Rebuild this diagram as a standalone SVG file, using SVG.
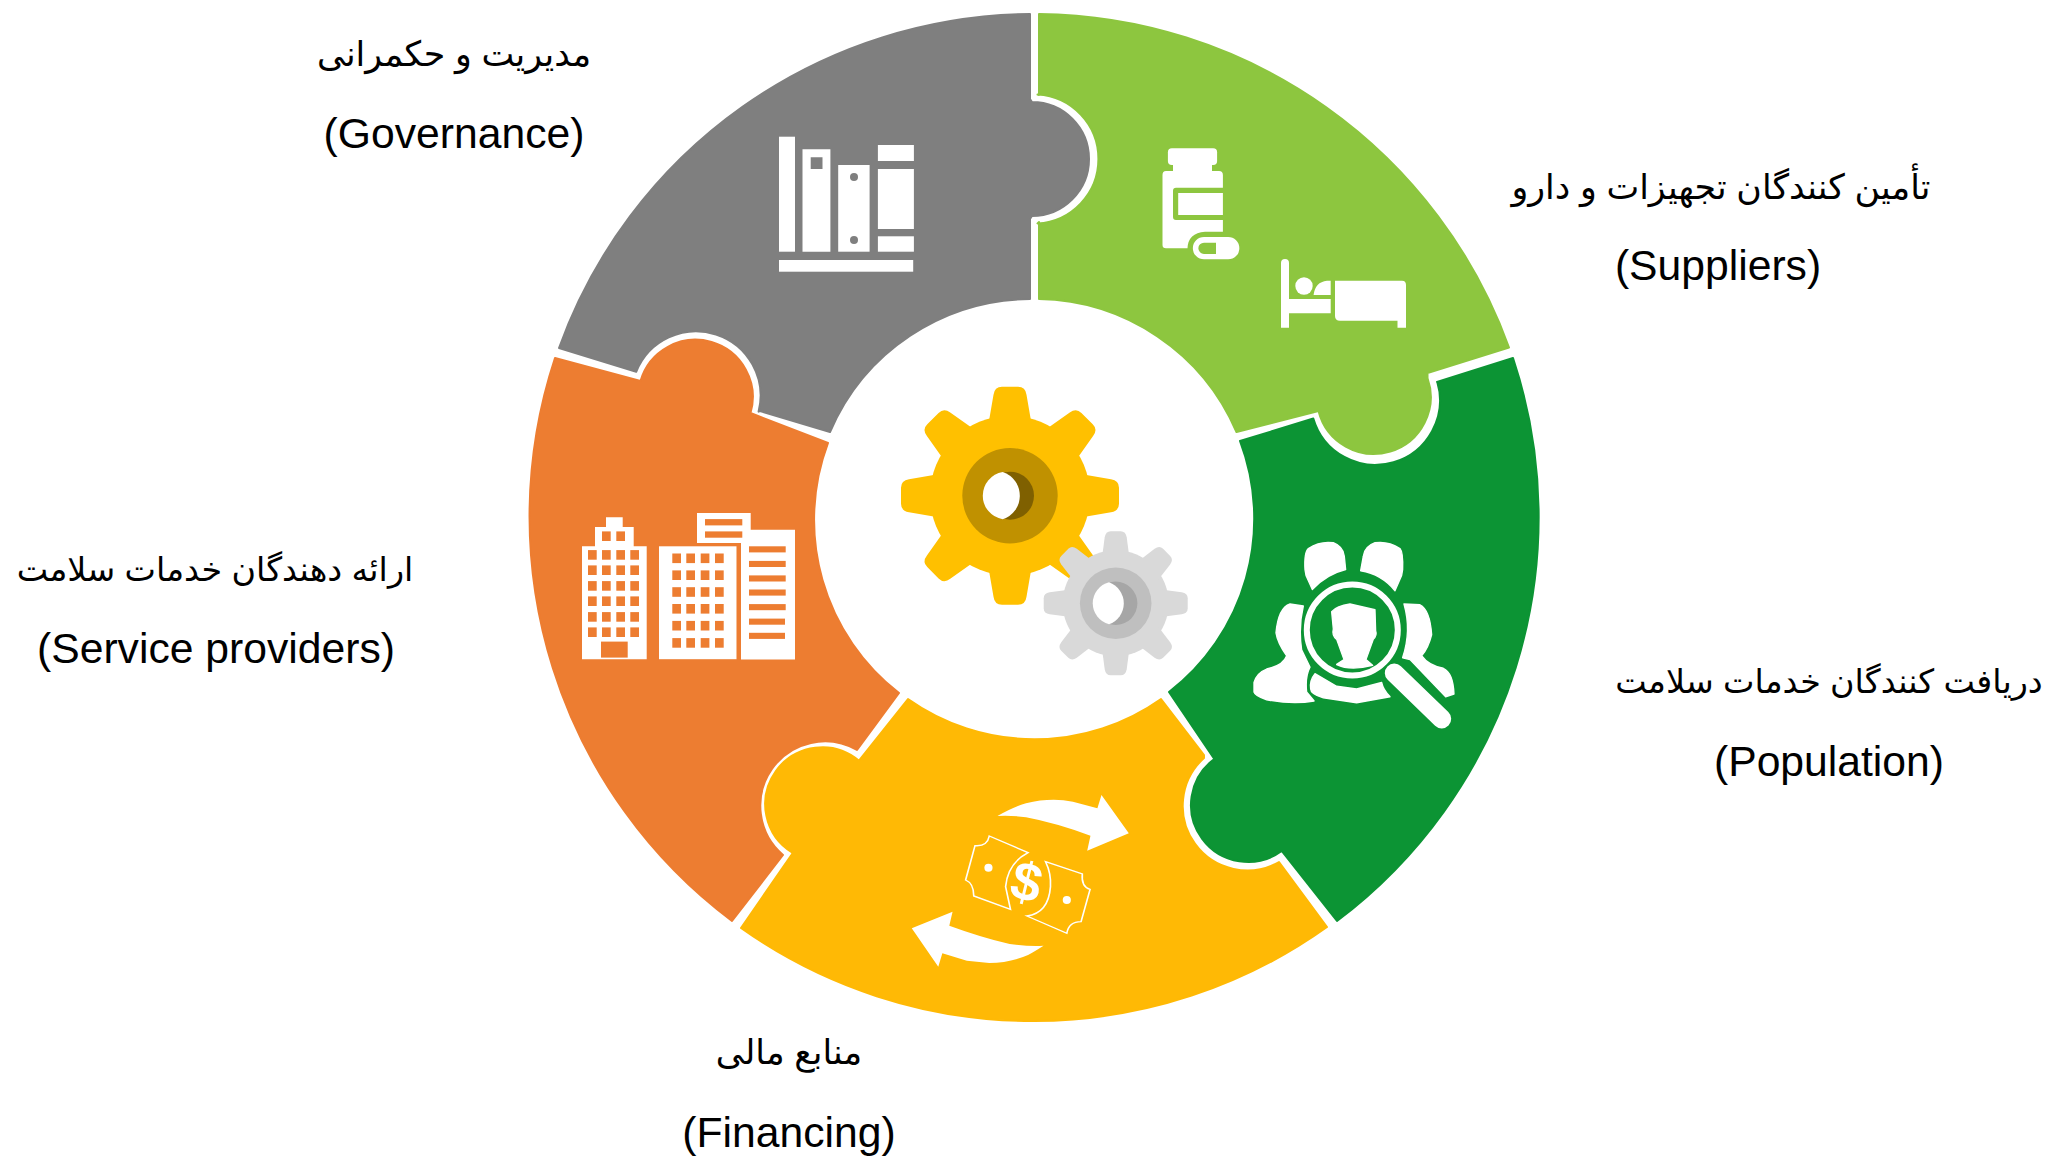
<svg xmlns="http://www.w3.org/2000/svg" width="2046" height="1157" viewBox="0 0 2046 1157">
<style>
text{font-family:"Liberation Sans","DejaVu Sans",sans-serif;font-size:42.67px;fill:#000;text-anchor:middle}
.fa{direction:rtl;font-size:34.8px}
.fb{direction:rtl;font-size:33.4px}
.p{stroke-width:2;stroke-linejoin:round}
.w{fill:#fff}
</style>
<defs>
<path id="tooth" d="M-21.5-72L-16.5-101Q-15.5-109-8-109L8-109Q15.5-109 16.5-101L21.5-72Z"/>
<path id="toothS" d="M-13.5-47L-11-66Q-10-72-5-72L5-72Q10-72 11-66L13.5-47Z"/>
<g id="big"><circle r="80"/><use href="#tooth"/><use href="#tooth" transform="rotate(45)"/><use href="#tooth" transform="rotate(90)"/><use href="#tooth" transform="rotate(135)"/><use href="#tooth" transform="rotate(180)"/><use href="#tooth" transform="rotate(225)"/><use href="#tooth" transform="rotate(270)"/><use href="#tooth" transform="rotate(315)"/></g>
<g id="small"><circle r="53"/><use href="#toothS"/><use href="#toothS" transform="rotate(45)"/><use href="#toothS" transform="rotate(90)"/><use href="#toothS" transform="rotate(135)"/><use href="#toothS" transform="rotate(180)"/><use href="#toothS" transform="rotate(225)"/><use href="#toothS" transform="rotate(270)"/><use href="#toothS" transform="rotate(315)"/></g>
</defs>
<rect width="2046" height="1157" fill="#fff"/>

<g id="governance">
<path class="p" fill="#7F7F7F" stroke="#7F7F7F" d="M1030,14L1030,99L1032,102A57,57 0 1 1 1032,216L1030,219L1030,299A219,219 0 0 0 830,432L760,411L758.6,411.6A64.5,64.5 0 0 0 636.2,371.8L559,348A505.5,505.5 0 0 1 1030,14Z"/>
<g class="w">
<rect x="779" y="136.7" width="16" height="115"/>
<path d="M802.5,149.3H830.4V251.7H802.5ZM810.7,157.3V169H822.5V157.3Z" fill-rule="evenodd"/>
<rect x="838.2" y="165" width="31.4" height="86.7"/>
<rect x="877.9" y="145" width="36" height="16"/>
<rect x="877.9" y="169" width="36" height="60"/>
<rect x="877.9" y="236.3" width="36" height="15.4"/>
<rect x="779" y="260" width="134.2" height="11.7"/>
</g>
<circle cx="854" cy="177" r="4" fill="#7F7F7F"/><circle cx="854" cy="240" r="4" fill="#7F7F7F"/>
</g>

<g id="suppliers">
<path class="p" fill="#8DC63F" stroke="#8DC63F" d="M1039,14A505.5,505.5 0 0 1 1509,347.5L1427.5,373L1427.5,378A57,57 0 1 1 1318.5,411L1236.5,432A219,219 0 0 0 1039,299L1039,222L1037.5,223.4A64.5,64.5 0 0 0 1037.5,94.6L1039,95Z"/>
<g class="w">
<rect x="1167.9" y="148.3" width="49.2" height="16.7" rx="4"/>
<rect x="1173" y="162" width="39" height="11"/>
<path d="M1166,171H1219Q1222.9,171 1222.9,175V187.7H1176Q1173,187.7 1173,190.7V217Q1173,220 1176,220H1222.9V231.7H1205Q1188,233 1187.5,248.3H1166Q1162.5,248.3 1162.5,245V175Q1162.5,171 1166,171Z"/>
<rect x="1178.2" y="193" width="44.7" height="22"/>
<path d="M1204,237H1228.2A11.15,11.15 0 0 1 1228.2,259.3H1204A11.15,11.15 0 0 1 1204,237ZM1204,242.7A5.6,5.6 0 0 0 1204,254H1216V242.7Z" fill-rule="evenodd"/>
<path d="M1281,263a4,4 0 0 1 8,0V299H1330.7V313.3H1289V327.7H1281Z"/>
<circle cx="1304" cy="286" r="8.7"/>
<path d="M1330.7,280.7V295H1313.6Q1315,282 1327,280.7Z"/>
<path d="M1335,280.7H1402Q1406,280.7 1406,285V327.7H1397.5V320.7H1340Q1335,320.7 1335,316Z"/>
</g>
</g>

<g id="population">
<path class="p" fill="#0C9434" stroke="#0C9434" d="M1513,358A505.5,505.5 0 0 1 1337,921L1281.7,851A57,57 0 1 1 1214.3,759L1169,692A219,219 0 0 0 1240,441L1313.3,418.5A64.5,64.5 0 0 0 1437.3,382L1437,382Z"/>
<g class="w" transform="translate(1180,340) scale(.3333,.3827)" stroke="#fff" stroke-width="4" stroke-linejoin="round">
<path d="M375,600Q372,555 385,545Q420,525 460,530Q490,540 493,565L497,600Q440,612 397,652L378,615Z"/>
<path d="M668,600Q670,555 660,545Q625,525 585,530Q553,540 550,565L542,603Q605,612 645,655L665,615Z"/>
<path d="M222,895Q230,870 260,860Q310,850 320,825Q292,790 288,765Q295,700 330,690L370,695Q355,750 365,810L390,855Q375,880 380,920L402,943Q340,953 260,940Q225,930 222,920Z"/>
<path d="M672,690L720,692Q750,705 755,770Q745,805 725,825Q745,850 790,858Q820,870 822,925L797,932L690,835L668,830Q695,760 672,690Z"/>
<path d="M405,872L470,905L530,912L605,895Q610,915 630,932L530,948L430,935Q392,925 392,912Q388,890 405,872Z"/>
<path d="M455,710Q470,695 510,690L585,705L587,760Q592,772 580,782L558,835L578,850Q510,865 470,848L492,835L470,782Q455,772 460,755Z"/>
</g>
<circle cx="1352.3" cy="630" r="45.5" fill="none" stroke="#fff" stroke-width="6"/>
<line x1="1394.3" y1="673" x2="1441.7" y2="718.9" stroke="#fff" stroke-width="19" stroke-linecap="round"/>
</g>

<g id="financing">
<path class="p" fill="#FFB905" stroke="#FFB905" d="M908,699A219,219 0 0 0 1161,699L1204,755L1204,758A64.5,64.5 0 0 0 1279,862L1327,927A505.5,505.5 0 0 1 741,928L791.4,855L792.7,853A57,57 0 1 1 859,760.7Z"/>
<g transform="translate(720,680) scale(.408,.3333)">
<path class="w" d="M680,408Q720,380 750,370Q810,352 865,365L925,385L935,345L1002,460L900,512L908,467Q820,428 750,412Q710,405 680,408Z"/>
<path class="w" d="M793,797Q770,815 755,825Q710,849 660,849L605,842L545,820L535,860L470,745L570,695L562,737Q640,772 710,792Q760,800 793,797Z"/>
<g fill="none" stroke="#fff" stroke-width="4">
<path d="M660,468L755,518Q705,550 700,620L712,688L622,648Q622,610 602,600L625,497Q655,500 660,468Z"/>
<path d="M798,545L888,582Q885,620 907,628L885,725Q855,725 850,760L752,708Q805,700 810,620Q812,580 798,545Z"/>
</g>
<ellipse class="w" cx="658" cy="563" rx="10" ry="12"/>
<ellipse class="w" cx="850" cy="660" rx="10" ry="12"/>
</g>
<text x="0" y="0" transform="translate(1022,900) rotate(14)" style="font-size:54px;font-weight:700;fill:#fff">$</text>
</g>

<g id="providers">
<path class="p" fill="#ED7D31" stroke="#ED7D31" d="M555,358A505.5,505.5 0 0 0 732,921L783,855A64.5,64.5 0 0 1 857,750L899,693A219,219 0 0 1 828,443L750.5,413A57,57 0 1 0 640.5,381Z"/>
<g class="w">
<path d="M582,546.3H595V527.1H606V517.2H622.7V527.1H633.7V546.3H646.7V659.2H582Z"/>
<rect x="659" y="546.3" width="77.7" height="112.9"/>
<path d="M741,529.8V543H697V513H750.7V529.8H795V659.5H741Z"/>
</g>
<g fill="#ED7D31">
<rect x="602" y="531.4" width="8.7" height="9.6"/><rect x="616.3" y="531.4" width="8.7" height="9.6"/>
<rect x="588" y="550.1" width="8.7" height="9.6"/><rect x="602" y="550.1" width="8.7" height="9.6"/><rect x="616.3" y="550.1" width="8.7" height="9.6"/><rect x="630.3" y="550.1" width="8.7" height="9.6"/>
<rect x="588" y="565.4" width="8.7" height="9.6"/><rect x="602" y="565.4" width="8.7" height="9.6"/><rect x="616.3" y="565.4" width="8.7" height="9.6"/><rect x="630.3" y="565.4" width="8.7" height="9.6"/>
<rect x="588" y="581.1" width="8.7" height="9.6"/><rect x="602" y="581.1" width="8.7" height="9.6"/><rect x="616.3" y="581.1" width="8.7" height="9.6"/><rect x="630.3" y="581.1" width="8.7" height="9.6"/>
<rect x="588" y="596.4" width="8.7" height="9.6"/><rect x="602" y="596.4" width="8.7" height="9.6"/><rect x="616.3" y="596.4" width="8.7" height="9.6"/><rect x="630.3" y="596.4" width="8.7" height="9.6"/>
<rect x="588" y="612.1" width="8.7" height="9.6"/><rect x="602" y="612.1" width="8.7" height="9.6"/><rect x="616.3" y="612.1" width="8.7" height="9.6"/><rect x="630.3" y="612.1" width="8.7" height="9.6"/>
<rect x="588" y="627.4" width="8.7" height="9.6"/><rect x="602" y="627.4" width="8.7" height="9.6"/><rect x="616.3" y="627.4" width="8.7" height="9.6"/><rect x="630.3" y="627.4" width="8.7" height="9.6"/>
<rect x="601" y="641.6" width="26.7" height="16"/>
<rect x="672.3" y="553.5" width="8.7" height="9.6"/><rect x="686.3" y="553.5" width="8.7" height="9.6"/><rect x="700.7" y="553.5" width="8.7" height="9.6"/><rect x="715" y="553.5" width="8.7" height="9.6"/>
<rect x="672.3" y="570.4" width="8.7" height="9.6"/><rect x="686.3" y="570.4" width="8.7" height="9.6"/><rect x="700.7" y="570.4" width="8.7" height="9.6"/><rect x="715" y="570.4" width="8.7" height="9.6"/>
<rect x="672.3" y="587.2" width="8.7" height="9.6"/><rect x="686.3" y="587.2" width="8.7" height="9.6"/><rect x="700.7" y="587.2" width="8.7" height="9.6"/><rect x="715" y="587.2" width="8.7" height="9.6"/>
<rect x="672.3" y="604" width="8.7" height="9.6"/><rect x="686.3" y="604" width="8.7" height="9.6"/><rect x="700.7" y="604" width="8.7" height="9.6"/><rect x="715" y="604" width="8.7" height="9.6"/>
<rect x="672.3" y="620.9" width="8.7" height="9.6"/><rect x="686.3" y="620.9" width="8.7" height="9.6"/><rect x="700.7" y="620.9" width="8.7" height="9.6"/><rect x="715" y="620.9" width="8.7" height="9.6"/>
<rect x="672.3" y="638.1" width="8.7" height="9.6"/><rect x="686.3" y="638.1" width="8.7" height="9.6"/><rect x="700.7" y="638.1" width="8.7" height="9.6"/><rect x="715" y="638.1" width="8.7" height="9.6"/>
<rect x="749" y="546.3" width="36.7" height="6.1"/><rect x="749" y="560.9" width="36.7" height="6.1"/><rect x="749" y="575.4" width="36.7" height="6.1"/><rect x="749" y="589.5" width="36.7" height="6.1"/><rect x="749" y="604.1" width="36.7" height="6.1"/><rect x="749" y="618.6" width="36" height="6.1"/><rect x="749" y="632.8" width="36" height="6.1"/>
<rect x="705" y="519.1" width="37.3" height="6.3"/><rect x="705" y="531.4" width="37.3" height="6.3"/>
<rect x="736.7" y="543" width="4.3" height="116.5"/>
</g>
</g>

<g id="gears">
<use href="#big" transform="translate(1010,495.7)" fill="#FFC000"/>
<circle cx="1010" cy="495.7" r="47.7" fill="#C09100"/>
<circle cx="1010" cy="495.7" r="24" fill="#7F6000"/>
<path class="w" d="M1002.7,472A24,24 0 0 0 1002.7,519.3A24.9,24.9 0 0 0 1002.7,472Z"/>
<use href="#small" transform="translate(1115.7,603.3)" fill="#D9D9D9"/>
<circle cx="1115.7" cy="603.3" r="35.8" fill="#BFBFBF"/>
<circle cx="1115.7" cy="603.3" r="21.7" fill="#A6A6A6"/>
<path class="w" d="M1109,582.3A21.7,21.7 0 0 0 1109,624.3A22.3,22.3 0 0 0 1109,582.3Z"/>
</g>

<g id="label-governance"><text class="fa" x="454" y="66">مدیریت و حکمرانی</text><text x="454" y="148">(Governance)</text></g>
<g id="label-suppliers"><text class="fa" x="1721" y="199">تأمین کنندگان تجهیزات و دارو</text><text x="1718" y="280">(Suppliers)</text></g>
<g id="label-providers"><text class="fb" x="215" y="581">ارائه دهندگان خدمات سلامت</text><text x="216" y="663">(Service providers)</text></g>
<g id="label-population"><text class="fb" x="1829" y="693">دریافت کنندگان خدمات سلامت</text><text x="1829" y="776">(Population)</text></g>
<g id="label-financing"><text class="fa" x="789" y="1064">منابع مالی</text><text x="789" y="1147">(Financing)</text></g>
</svg>
